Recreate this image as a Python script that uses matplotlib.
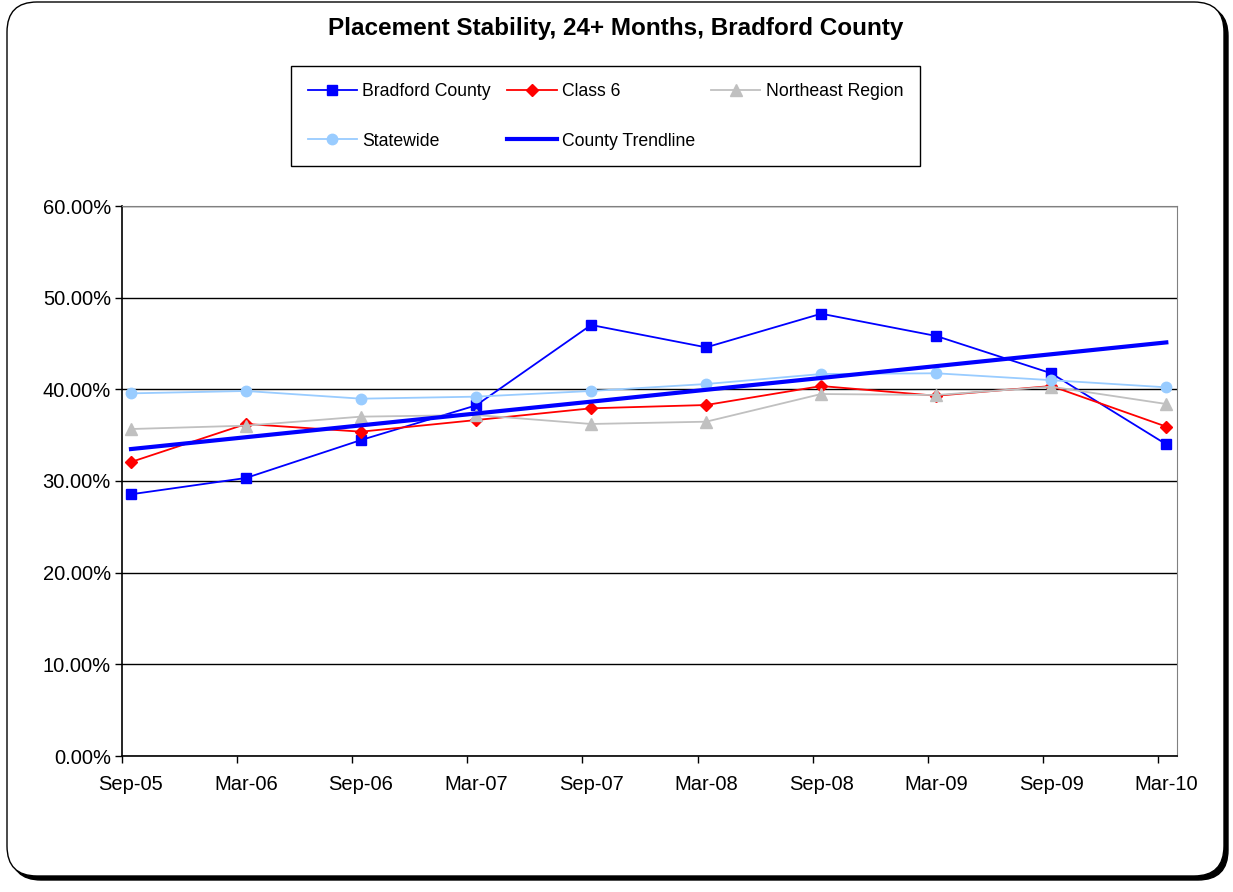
import numpy as np
import matplotlib
matplotlib.use('Agg')
import matplotlib.pyplot as plt
from matplotlib.patches import FancyBboxPatch
from matplotlib.transforms import IdentityTransform
from matplotlib.ticker import FuncFormatter

# Dados
periodos = ['Sep-05', 'Mar-06', 'Sep-06', 'Mar-07', 'Sep-07',
            'Mar-08', 'Sep-08', 'Mar-09', 'Sep-09', 'Mar-10']
bradford = [28.55, 30.33, 34.47, 38.25, 47.02, 44.58, 48.25, 45.82, 41.75, 34.00]
class6 = [32.07, 36.22, 35.38, 36.65, 37.93, 38.29, 40.36, 39.30, 40.36, 35.93]
northeast = [35.67, 36.04, 37.02, 37.20, 36.22, 36.47, 39.49, 39.38, 40.29, 38.40]
statewide = [39.56, 39.82, 38.98, 39.20, 39.82, 40.58, 41.67, 41.75, 41.00, 40.22]

W, H = 1233, 892
fig = plt.figure(figsize=(W / 100, H / 100), dpi=100)
plt.rcParams['font.family'] = ['Liberation Sans', 'DejaVu Sans']

# moldura arredondada com sombra
sombra = FancyBboxPatch((7 + 4, H - 876 - 4), 1217, 874,
                        boxstyle='round,pad=0,rounding_size=30',
                        transform=IdentityTransform(), facecolor='black',
                        edgecolor='black', zorder=-2)
moldura = FancyBboxPatch((7, H - 876), 1217, 874,
                         boxstyle='round,pad=0,rounding_size=30',
                         transform=IdentityTransform(), facecolor='white',
                         edgecolor='black', linewidth=1, zorder=-1)
fig.patches.extend([sombra, moldura])

ax = fig.add_axes([122 / W, 1 - 756 / H, (1177 - 122) / W, (756 - 206) / H])
x = np.arange(len(periodos))

l1, = ax.plot(x, bradford, color='#0000FF', lw=1.3, marker='s', ms=7, label='Bradford County', zorder=3)
l2, = ax.plot(x, class6, color='#FF0000', lw=1.3, marker='D', ms=6.5, label='Class 6', zorder=4)
l3, = ax.plot(x, northeast, color='#C0C0C0', lw=1.3, marker='^', ms=8, label='Northeast Region', zorder=5)
l4, = ax.plot(x, statewide, color='#99CCFF', lw=1.3, marker='o', ms=7.5, label='Statewide', zorder=6)

# linha de tendencia linear do condado
coef = np.polyfit(x, bradford, 1)
l5, = ax.plot(x, np.polyval(coef, x), color='#0000FF', lw=3, label='County Trendline', zorder=7)

ax.set_xlim(-0.078, 9.093)
ax.set_ylim(0, 60)
ax.set_yticks(np.arange(0, 61, 10))
ax.yaxis.set_major_formatter(FuncFormatter(lambda v, p: f'{v:.2f}%'))
ax.grid(axis='y', color='black', lw=1)
ax.set_axisbelow(True)

# marcas do eixo x levemente deslocadas; rotulos centrados nos pontos
ax.set_xticks(x - 0.075)
ax.set_xticklabels([])
ax.set_xticks(x, minor=True)
ax.set_xticklabels(periodos, minor=True)
ax.tick_params(axis='x', which='major', length=5, width=1, color='black')
ax.tick_params(axis='x', which='minor', length=0, pad=14, labelsize=14.5)
ax.tick_params(axis='y', length=5, width=1, pad=3, labelsize=14.5)

for lado in ['left', 'bottom']:
    ax.spines[lado].set_color('black')
    ax.spines[lado].set_linewidth(1.2)
ax.spines['right'].set_color('#808080')
ax.spines['top'].set_color('#808080')

fig.text(616 / W, 1 - 28 / H, 'Placement Stability, 24+ Months, Bradford County',
         ha='center', va='center', fontsize=17.5, fontweight='bold')

leg = fig.legend([l1, l4, l2, l5, l3],
                 ['Bradford County', 'Statewide', 'Class 6', 'County Trendline', 'Northeast Region'],
                 ncol=3, mode='expand', loc='upper left',
                 bbox_to_anchor=(291 / W, 1 - 66 / H, (920 - 291) / W, 0.0),
                 borderaxespad=0, fancybox=False, framealpha=1, edgecolor='black',
                 fontsize=12.7, handlelength=2.8, handletextpad=0.3,
                 labelspacing=1.86, borderpad=0.95, columnspacing=1.0)
leg.get_frame().set_linewidth(1)

fig.savefig('out.png', dpi=100)
